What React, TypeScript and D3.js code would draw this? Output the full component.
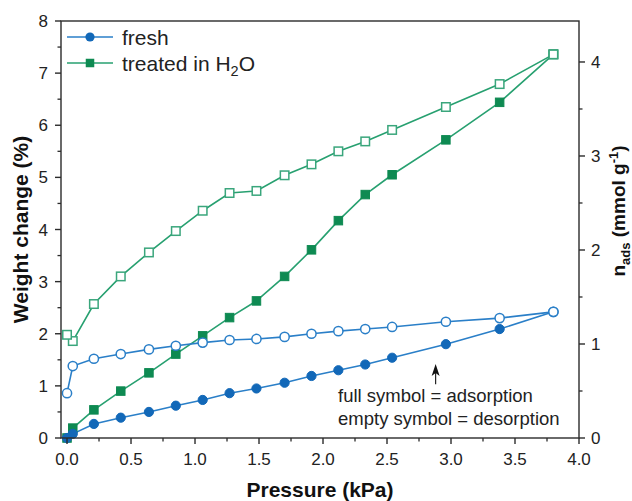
import React from "react";
import * as d3 from "d3";

// ---- data ----
const adsPressure = [0.0, 0.045, 0.21, 0.42, 0.64, 0.85, 1.06, 1.27, 1.48, 1.70, 1.91, 2.12, 2.33, 2.54, 2.96, 3.38, 3.80];
const desPressure = [3.80, 3.38, 2.96, 2.54, 2.33, 2.12, 1.91, 1.70, 1.48, 1.27, 1.06, 0.85, 0.64, 0.42, 0.21, 0.045, 0.0];

const freshAds = [0.0, 0.08, 0.27, 0.39, 0.50, 0.62, 0.73, 0.86, 0.95, 1.06, 1.19, 1.30, 1.41, 1.54, 1.80, 2.09, 2.42];
const freshDes = [2.42, 2.30, 2.23, 2.13, 2.09, 2.05, 2.00, 1.94, 1.90, 1.88, 1.83, 1.77, 1.70, 1.61, 1.52, 1.38, 0.86];

const treatedAds = [0.0, 0.19, 0.54, 0.90, 1.25, 1.61, 1.96, 2.31, 2.63, 3.10, 3.61, 4.17, 4.67, 5.05, 5.72, 6.44, 7.36];
const treatedDes = [7.36, 6.79, 6.35, 5.91, 5.69, 5.50, 5.25, 5.04, 4.74, 4.70, 4.36, 3.97, 3.56, 3.10, 2.57, 1.86, 1.98];

const xTicks = [0, 0.5, 1.0, 1.5, 2.0, 2.5, 3.0, 3.5, 4.0];
const yTicks = [0, 1, 2, 3, 4, 5, 6, 7, 8];
const y2Ticks = [0, 1, 2, 3, 4];

const seriesNames = ["fresh", "treated in H"];
const annotationLines = ["full symbol = adsorption", "empty symbol = desorption"];

// ---- styling ----
const FONT = "'Liberation Sans', Arial, Helvetica, sans-serif";
const BLUE = "#1268b8";
const BLUE_LINE = "#2a7fc8";
const GREEN = "#0e8a52";
const GREEN_LINE = "#27a070";
const GREEN_OPEN = "#3aa67c";
const AXIS = "#2b2b2b";

const W = 632;
const H = 501;
const L = 61, R = 579, T = 21, B = 438;

export default function App() {
  const x = d3.scaleLinear().domain([-0.047, 4.0]).range([L, R]);
  const y = d3.scaleLinear().domain([0, 8]).range([B, T]);
  const y2 = d3.scaleLinear().domain([0, 4.436]).range([B, T]);

  const line = d3
    .line<[number, number]>()
    .x((d) => x(d[0]))
    .y((d) => y(d[1]));

  const zip = (a: number[], b: number[]) => a.map((v, i) => [v, b[i]] as [number, number]);

  const fa = zip(adsPressure, freshAds);
  const fd = zip(desPressure, freshDes);
  const ta = zip(adsPressure, treatedAds);
  const td = zip(desPressure, treatedDes);

  const xMinor = d3.range(0, 4.001, 0.25).filter((v) => Math.abs(v * 2 - Math.round(v * 2)) > 1e-6);
  const yMinor = d3.range(0.5, 8, 1);
  const y2Minor = d3.range(0.5, 4.436, 1);

  const sq = 8.5;
  const r = 4.6;

  const ax = x(2.88);
  const aTail = y(1.03);
  const aTip = y(1.42);

  return (
    <svg
      width={W}
      height={H}
      style={{ position: "absolute", left: 0, top: 0, background: "#fff" }}
      fontFamily={FONT}
    >
      <rect x={0} y={0} width={W} height={H} fill="#fff" />

      {/* data lines */}
      <path d={line(td) || ""} fill="none" stroke={GREEN_LINE} strokeWidth={1.6} />
      <path d={line(ta) || ""} fill="none" stroke={GREEN_LINE} strokeWidth={1.6} />
      <path d={line(fd) || ""} fill="none" stroke={BLUE_LINE} strokeWidth={1.6} />
      <path d={line(fa) || ""} fill="none" stroke={BLUE_LINE} strokeWidth={1.6} />

      {/* markers */}
      {td.map((d, i) => (
        <rect key={"td" + i} x={x(d[0]) - sq / 2} y={y(d[1]) - sq / 2} width={sq} height={sq} fill="#fff" stroke={GREEN_OPEN} strokeWidth={1.5} />
      ))}
      {ta.map((d, i) => (
        <rect key={"ta" + i} x={x(d[0]) - sq / 2} y={y(d[1]) - sq / 2} width={sq} height={sq} fill={GREEN} stroke={GREEN} strokeWidth={1} />
      ))}
      {fd.map((d, i) => (
        <circle key={"fd" + i} cx={x(d[0])} cy={y(d[1])} r={r} fill="#fff" stroke={BLUE_LINE} strokeWidth={1.5} />
      ))}
      {fa.slice(0, -1).map((d, i) => (
        <circle key={"fa" + i} cx={x(d[0])} cy={y(d[1])} r={r} fill={BLUE} stroke={BLUE} strokeWidth={1} />
      ))}
      {/* shared top point appears open */}
      <circle cx={x(fd[0][0])} cy={y(fd[0][1])} r={r} fill="#fff" stroke={BLUE_LINE} strokeWidth={1.5} />
      <rect x={x(td[0][0]) - sq / 2} y={y(td[0][1]) - sq / 2} width={sq} height={sq} fill="#fff" stroke={GREEN_OPEN} strokeWidth={1.5} />

      {/* frame */}
      <rect x={L} y={T} width={R - L} height={B - T} fill="none" stroke={AXIS} strokeWidth={1.4} />

      {/* bottom axis */}
      {xTicks.map((t) => (
        <g key={"xt" + t}>
          <line x1={x(t)} x2={x(t)} y1={B} y2={B + 6} stroke={AXIS} strokeWidth={1.4} />
          <text x={x(t)} y={465} textAnchor="middle" fontSize={17} fill="#222">
            {t.toFixed(1)}
          </text>
        </g>
      ))}
      {xMinor.map((t) => (
        <line key={"xm" + t} x1={x(t)} x2={x(t)} y1={B} y2={B + 3.5} stroke={AXIS} strokeWidth={1.3} />
      ))}

      {/* left axis */}
      {yTicks.map((t) => (
        <g key={"yt" + t}>
          <line x1={L - 6} x2={L} y1={y(t)} y2={y(t)} stroke={AXIS} strokeWidth={1.4} />
          <text x={48} y={y(t)} dy="0.36em" textAnchor="end" fontSize={17} fill="#222">
            {t}
          </text>
        </g>
      ))}
      {yMinor.map((t) => (
        <line key={"ym" + t} x1={L - 3.5} x2={L} y1={y(t)} y2={y(t)} stroke={AXIS} strokeWidth={1.3} />
      ))}

      {/* right axis */}
      {y2Ticks.map((t) => (
        <g key={"y2t" + t}>
          <line x1={R} x2={R + 6} y1={y2(t)} y2={y2(t)} stroke={AXIS} strokeWidth={1.4} />
          <text x={591} y={y2(t)} dy="0.36em" textAnchor="start" fontSize={17} fill="#222">
            {t}
          </text>
        </g>
      ))}
      {y2Minor.map((t) => (
        <line key={"y2m" + t} x1={R} x2={R + 3.5} y1={y2(t)} y2={y2(t)} stroke={AXIS} strokeWidth={1.3} />
      ))}

      {/* axis titles */}
      <text x={(L + R) / 2} y={497} textAnchor="middle" fontSize={21} fontWeight="bold" fill="#111">
        Pressure (kPa)
      </text>
      <text
        transform={`translate(28, ${(T + B) / 2}) rotate(-90)`}
        textAnchor="middle"
        fontSize={21}
        fontWeight="bold"
        fill="#111"
      >
        Weight change (%)
      </text>
      <text
        transform={`translate(625, 211) rotate(-90)`}
        textAnchor="middle"
        fontSize={19}
        fontWeight="bold"
        fill="#111"
      >
        n
        <tspan fontSize={13} dy={5}>ads</tspan>
        <tspan dy={-5}> (mmol g</tspan>
        <tspan fontSize={13} dy={-7}>-1</tspan>
        <tspan dy={7}>)</tspan>
      </text>

      {/* legend */}
      <line x1={67} x2={113} y1={37} y2={37} stroke={BLUE_LINE} strokeWidth={1.6} />
      <circle cx={90} cy={37} r={r} fill={BLUE} />
      <text x={122} y={44.5} fontSize={21} fill="#222">
        {seriesNames[0]}
      </text>
      <line x1={67} x2={113} y1={63} y2={63} stroke={GREEN_LINE} strokeWidth={1.6} />
      <rect x={90 - sq / 2} y={63 - sq / 2} width={sq} height={sq} fill={GREEN} />
      <text x={122} y={70.5} fontSize={21} fill="#222">
        {seriesNames[1]}
        <tspan fontSize={14.5} dy={5}>2</tspan>
        <tspan dy={-5}>O</tspan>
      </text>

      {/* annotation arrow */}
      <line x1={ax} x2={ax} y1={aTail} y2={aTip + 8} stroke="#111" strokeWidth={1.1} />
      <path
        d={`M${ax},${aTip} L${ax + 4},${aTip + 12} L${ax},${aTip + 9} L${ax - 4},${aTip + 12} Z`}
        fill="#111"
      />
      <text x={338} y={402} fontSize={18.5} fill="#222">
        {annotationLines[0]}
      </text>
      <text x={338} y={425} fontSize={18.5} fill="#222">
        {annotationLines[1]}
      </text>
    </svg>
  );
}
